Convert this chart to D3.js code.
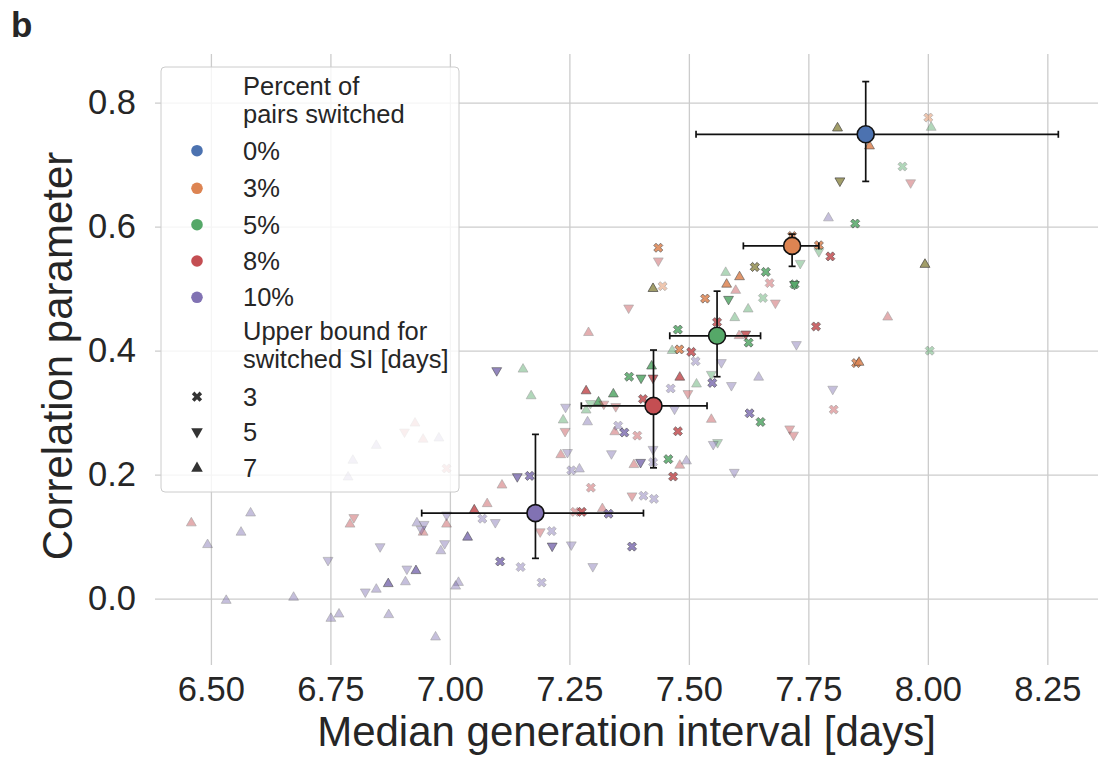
<!DOCTYPE html>
<html><head><meta charset="utf-8">
<script src="https://cdn.jsdelivr.net/npm/d3@7"></script>
<style>
body{margin:0;background:#fff}
svg{display:block}
text{font-family:"Liberation Sans",Arial,Helvetica,sans-serif;fill:#262626}
</style>
</head><body>
<svg id="chart" width="1098" height="759"></svg>
<script>
// ---------------- data ----------------
const percentLabels = ["0%", "3%", "5%", "8%", "10%"];
const percentColors = ["#4c72b0", "#dd8452", "#55a868", "#c44e52", "#8172b3"];
const boundLabels = ["3", "5", "7"];
const xTicks = [6.50, 6.75, 7.00, 7.25, 7.50, 7.75, 8.00, 8.25];
const yTicks = [0.0, 0.2, 0.4, 0.6, 0.8];

// each entry: [median generation interval, correlation parameter, upper bound (days), weight 0/1]
const pts0 = [];
const pts3 = [
  [7.436,0.566,3,1],[7.425,0.500,7,1],[7.445,0.504,3,0],[7.480,0.402,3,1],[7.534,0.484,3,1],
  [7.579,0.507,7,1],[7.811,0.759,7,1],[7.878,0.730,7,1],[8.001,0.776,3,0],[7.816,0.674,5,1],
  [7.716,0.585,3,1],[7.772,0.570,3,1],[7.994,0.539,7,1],[7.638,0.535,3,1],[7.606,0.519,7,1],
  [7.850,0.380,3,1],[7.856,0.381,7,1]
];
const pts5 = [
  [7.425,0.500,7,0],[7.153,0.370,7,0],[7.170,0.327,7,0],[7.237,0.288,7,0],[7.294,0.315,5,0],
  [7.311,0.317,7,1],[7.342,0.330,7,1],[7.285,0.304,7,0],[7.375,0.358,3,1],[7.400,0.356,5,1],
  [7.422,0.375,7,1],[7.516,0.346,7,0],[7.457,0.225,3,1],[7.465,0.400,7,0],[7.477,0.434,3,1],
  [7.583,0.483,5,1],[7.577,0.526,7,0],[7.596,0.453,7,0],[7.547,0.362,5,0],[7.560,0.252,5,0],
  [7.811,0.759,7,0],[8.007,0.760,7,0],[7.947,0.697,3,0],[7.816,0.674,5,0],[7.848,0.605,3,1],
  [7.772,0.560,5,0],[7.733,0.541,5,0],[7.994,0.539,7,0],[7.638,0.535,3,0],[7.661,0.527,3,1],
  [7.721,0.507,3,1],[7.721,0.507,5,1],[7.655,0.485,3,0],[7.624,0.467,7,0],[7.625,0.413,3,1],
  [8.004,0.400,3,0],[7.650,0.285,3,1]
];
const pts8 = [
  [6.905,0.269,5,0],[6.927,0.283,7,0],[6.944,0.257,7,0],[6.993,0.210,3,0],[6.459,0.122,7,0],
  [6.799,0.131,5,0],[6.791,0.120,7,0],[6.944,0.107,7,0],[6.993,0.120,7,0],[7.109,0.183,7,0],
  [7.078,0.153,7,0],[7.051,0.143,7,1],[7.189,0.108,5,0],[7.295,0.179,3,0],[7.381,0.166,5,0],
  [7.262,0.140,3,0],[7.276,0.140,3,1],[7.319,0.145,7,0],[7.467,0.197,3,1],[7.436,0.545,5,0],
  [7.374,0.469,5,0],[7.290,0.429,7,0],[7.241,0.270,5,0],[7.232,0.232,7,0],[7.285,0.335,7,1],
  [7.322,0.314,5,0],[7.347,0.310,5,0],[7.425,0.356,5,1],[7.481,0.357,7,1],[7.498,0.331,5,0],
  [7.404,0.322,3,1],[7.345,0.269,7,0],[7.392,0.263,3,0],[7.477,0.270,3,1],[7.385,0.216,7,0],
  [7.481,0.215,7,0],[7.505,0.398,3,1],[7.559,0.446,3,1],[7.598,0.497,7,0],[7.547,0.289,7,0],
  [7.964,0.671,5,0],[7.796,0.552,3,1],[7.669,0.509,3,0],[7.681,0.477,5,0],[7.916,0.454,7,0],
  [7.766,0.439,3,1],[7.605,0.424,7,0],[7.619,0.427,5,1],[7.803,0.305,3,0],[7.711,0.274,5,0],
  [7.719,0.264,5,0]
];
const pts10 = [
  [6.977,0.259,7,0],[6.846,0.247,7,0],[6.797,0.223,7,0],[6.787,0.196,7,0],[6.493,0.087,7,0],
  [6.583,0.138,7,0],[6.563,0.107,7,0],[6.532,-0.003,7,0],[6.673,0.002,7,0],[6.745,0.062,5,0],
  [6.854,0.084,5,0],[6.751,-0.032,7,0],[6.768,-0.025,7,0],[6.823,0.011,5,0],[6.846,0.015,7,0],
  [6.871,0.024,7,1],[6.872,-0.026,7,0],[6.910,0.048,5,0],[6.929,0.045,7,1],[6.907,0.027,7,0],
  [6.970,-0.062,7,0],[6.931,0.122,7,0],[6.946,0.120,5,0],[6.940,0.112,5,0],[6.993,0.135,5,0],
  [6.989,0.089,5,0],[6.981,0.077,7,0],[7.037,0.099,7,1],[7.018,0.026,7,0],[7.012,0.020,7,0],
  [7.141,0.197,5,1],[7.167,0.198,3,1],[7.068,0.129,3,0],[7.095,0.123,5,0],[7.105,0.060,3,1],
  [7.148,0.051,3,0],[7.192,0.026,3,0],[7.213,0.109,3,0],[7.214,0.085,5,1],[7.254,0.087,5,0],
  [7.405,0.166,3,0],[7.427,0.161,3,0],[7.332,0.137,3,1],[7.381,0.084,3,1],[7.299,0.052,5,0],
  [7.254,0.207,3,0],[7.271,0.209,7,0],[7.098,0.368,5,1],[7.242,0.309,5,0],[7.288,0.285,7,0],
  [7.246,0.236,5,0],[7.462,0.339,3,0],[7.470,0.306,5,0],[7.352,0.279,3,0],[7.365,0.268,3,1],
  [7.425,0.241,5,0],[7.338,0.234,5,0],[7.399,0.220,5,1],[7.425,0.220,3,0],[7.495,0.222,7,0],
  [7.514,0.383,3,0],[7.568,0.381,5,0],[7.549,0.348,3,1],[7.589,0.344,5,0],[7.551,0.249,5,0],
  [7.595,0.204,5,0],[7.792,0.614,7,0],[7.725,0.410,5,0],[7.646,0.357,7,0],[7.801,0.338,5,0],
  [7.627,0.299,3,1]
];

// summary (median and interval) per percentage, order as percentLabels
const sumX   = [7.870, 7.716, 7.559, 7.426, 7.179];
const sumY   = [0.749, 0.569, 0.424, 0.311, 0.138];
const sumXlo = [7.515, 7.614, 7.460, 7.275, 6.941];
const sumXhi = [8.273, 7.772, 7.650, 7.538, 7.405];
const sumYlo = [0.673, 0.536, 0.358, 0.211, 0.065];
const sumYhi = [0.834, 0.588, 0.496, 0.401, 0.265];

// ---------------- drawing ----------------
const L = 155, R = 1098, T = 54, B = 665;
const svg = d3.select("#chart");

const x = d3.scaleLinear().domain([6.383, 8.356]).range([L, R]);
const y = d3.scaleLinear().domain([-0.107, 0.8785]).range([B, T]);
const color = d3.scaleOrdinal().domain(percentLabels).range(percentColors);
const opacity = d3.scaleLinear().domain([0, 1]).range([0.45, 0.85]);

// grid + ticks
const gx = svg.append("g").attr("transform", `translate(0,${B})`)
  .call(d3.axisBottom(x).tickValues(xTicks).tickSize(-(B - T)).tickPadding(12).tickFormat(d3.format(".2f")));
const gy = svg.append("g").attr("transform", `translate(${L},0)`)
  .call(d3.axisLeft(y).tickValues(yTicks).tickSize(-(R - L)).tickPadding(19).tickFormat(d3.format(".1f")));
[gx, gy].forEach(g => {
  g.select(".domain").remove();
  g.selectAll(".tick line").attr("stroke", "#cccccc").attr("stroke-width", 1.3);
  g.selectAll(".tick text").style("font-size", "34.5px").attr("fill", "#262626")
    .style("font-family", '"Liberation Sans",Arial,sans-serif');
});

// symbols
function symPath(bound, size) {
  if (bound === 3) return d3.symbol().type(d3.symbolCross).size(size)();
  return d3.symbol().type(d3.symbolTriangle).size(size)();
}
function symRot(bound) {
  if (bound === 3) return 45;
  if (bound === 5) return 180;
  return 0;
}

const series = [
  {label: "0%", pts: pts0},
  {label: "3%", pts: pts3},
  {label: "5%", pts: pts5},
  {label: "8%", pts: pts8},
  {label: "10%", pts: pts10}
];

const gp = svg.append("g");
series.forEach(s => {
  gp.selectAll(null).data(s.pts).enter().append("path")
    .attr("d", d => symPath(d[2], d[2] === 3 ? 52 : 42))
    .attr("transform", d => `translate(${x(d[0])},${y(d[1])}) rotate(${symRot(d[2])})`)
    .attr("fill", color(s.label))
    .attr("stroke", "#333333")
    .attr("stroke-width", 0.6)
    .attr("opacity", d => opacity(d[3]));
});

// summary error bars + circles
const summary = percentLabels.map((p, i) => ({p, x: sumX[i], y: sumY[i], xlo: sumXlo[i], xhi: sumXhi[i], ylo: sumYlo[i], yhi: sumYhi[i]}));
const ge = svg.append("g");
const cap = 3.5;
summary.forEach(d => {
  const g = ge.append("g").attr("stroke", "#111").attr("stroke-width", 1.7);
  g.append("line").attr("x1", x(d.xlo)).attr("x2", x(d.xhi)).attr("y1", y(d.y)).attr("y2", y(d.y));
  g.append("line").attr("x1", x(d.xlo)).attr("x2", x(d.xlo)).attr("y1", y(d.y) - cap).attr("y2", y(d.y) + cap);
  g.append("line").attr("x1", x(d.xhi)).attr("x2", x(d.xhi)).attr("y1", y(d.y) - cap).attr("y2", y(d.y) + cap);
  g.append("line").attr("x1", x(d.x)).attr("x2", x(d.x)).attr("y1", y(d.ylo)).attr("y2", y(d.yhi));
  g.append("line").attr("x1", x(d.x) - cap).attr("x2", x(d.x) + cap).attr("y1", y(d.ylo)).attr("y2", y(d.ylo));
  g.append("line").attr("x1", x(d.x) - cap).attr("x2", x(d.x) + cap).attr("y1", y(d.yhi)).attr("y2", y(d.yhi));
});
ge.selectAll("circle").data(summary).enter().append("circle")
  .attr("cx", d => x(d.x)).attr("cy", d => y(d.y)).attr("r", 8.5)
  .attr("fill", d => color(d.p)).attr("stroke", "#111").attr("stroke-width", 1.6);

// axis labels
svg.append("text").attr("x", (L + R) / 2).attr("y", 746).attr("text-anchor", "middle")
  .style("font-size", "42px").text("Median generation interval [days]");
svg.append("text").attr("transform", "translate(72,356) rotate(-90)").attr("text-anchor", "middle")
  .style("font-size", "42px").text("Correlation parameter");
svg.append("text").attr("x", 11).attr("y", 37).style("font-size", "35px").style("font-weight", "bold").text("b");

// legend
const lg = svg.append("g");
lg.append("rect").attr("x", 161).attr("y", 67).attr("width", 298).attr("height", 425).attr("rx", 4)
  .attr("fill", "#ffffff").attr("fill-opacity", 0.8).attr("stroke", "#cccccc").attr("stroke-width", 1);
const lx = 197, tx = 243, fs = "25.5px";
function ltext(t, yy) {
  lg.append("text").attr("x", tx).attr("y", yy).attr("dy", "0.358em").style("font-size", fs).text(t);
}
ltext("Percent of", 86);
ltext("pairs switched", 113.5);
const rowY = [150.7, 188.3, 224.7, 261, 297.3];
percentLabels.forEach((p, i) => {
  lg.append("circle").attr("cx", lx).attr("cy", rowY[i]).attr("r", 5.8).attr("fill", color(p));
  ltext(p, rowY[i]);
});
ltext("Upper bound for", 331);
ltext("switched SI [days]", 358.5);
const bRowY = [396.7, 431.7, 468.3];
boundLabels.forEach((b, i) => {
  const bv = +b;
  lg.append("path").attr("d", symPath(bv, bv === 3 ? 66 : 58))
    .attr("transform", `translate(${lx},${bRowY[i]}) rotate(${symRot(bv)})`)
    .attr("fill", "#333333");
  ltext(b, bRowY[i]);
});
</script>
</body></html>
